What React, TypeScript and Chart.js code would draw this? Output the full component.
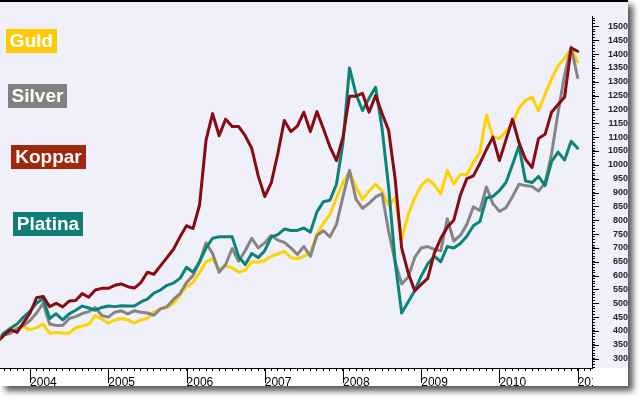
import React, { useEffect, useRef } from 'react';
import { Chart, registerables } from 'chart.js';

Chart.register(...registerables);

// Monthly observations, Aug 2003 .. Jan 2011
const START_YEAR = 2003;
const START_MONTH = 8;
const months: string[] = Array.from({ length: 90 }, (_, i) => {
  const t = START_MONTH - 1 + i;
  return `${START_YEAR + Math.floor(t / 12)}-${String((t % 12) + 1).padStart(2, '0')}`;
});

const yearLabels = ['2004', '2005', '2006', '2007', '2008', '2009', '2010', '2011'];
const yTickLabels = [300, 350, 400, 450, 500, 550, 600, 650, 700, 750, 800, 850, 900, 950, 1000, 1050, 1100, 1150, 1200, 1250, 1300, 1350, 1400, 1450, 1500];

const guld = [
  365, 385, 395, 410, 415, 405, 412, 425, 392, 395, 393, 392, 412, 418, 425, 455, 443,
  428, 440, 445, 440, 428, 440, 445, 468, 480, 484, 500, 530,
  560, 575, 610, 650, 660, 622, 635, 628, 612, 620, 650, 648,
  655, 670, 678, 688, 665, 660, 670, 682, 750, 790, 820, 880,
  935, 975, 920, 875, 905, 930, 905, 855, 880, 730, 820, 880,
  925, 948, 928, 895, 980, 930, 965, 965, 1010, 1045, 1180, 1100,
  1095, 1120, 1150, 1205, 1232, 1245, 1195, 1255, 1310, 1358, 1385, 1420,
  1372,
];

const silver = [
  362, 385, 392, 408, 420, 438, 465, 500, 425, 420, 420, 445, 452, 463, 470, 485, 456,
  450, 468, 473, 462, 473, 468, 465, 457, 480, 488, 514, 535,
  575, 600, 650, 718, 680, 612, 640, 698, 652, 690, 735, 700,
  718, 745, 728, 720, 700, 676, 705, 670, 745, 762, 740, 785,
  885, 980, 875, 843, 861, 884, 895, 760, 650, 570, 595, 665,
  700, 705, 695, 690, 805, 725, 745, 785, 848, 835, 920, 860,
  832, 845, 885, 930, 925, 922, 905, 935, 1040, 1190, 1325, 1425,
  1315,
];

const koppar = [
  360, 385, 405, 395, 430, 465, 520, 525, 488, 500, 487, 508, 510, 535, 522, 548, 554,
  554, 565, 570, 560, 555, 575, 612, 605, 635, 665, 695, 740,
  780, 770, 855, 1090, 1185, 1105, 1165, 1138, 1138, 1105, 1060, 960,
  885, 935, 1040, 1160, 1120, 1140, 1190, 1120, 1192, 1130, 1065, 1015,
  1100, 1248, 1248, 1258, 1190, 1250, 1185, 1125, 950, 700, 610, 545,
  568, 590, 680, 735, 775, 800, 890, 950, 960, 1005, 1055, 1100,
  1015, 1090, 1165, 1080, 1020, 990, 1095, 1110, 1190, 1218, 1245, 1422,
  1410,
];

const platina = [
  365, 393, 410, 425, 450, 472, 500, 518, 445, 462, 440, 462, 475, 490, 483, 475, 485,
  490, 488, 491, 490, 490, 505, 515, 537, 548, 565, 573, 590,
  630, 612, 650, 700, 735, 740, 740, 740, 668, 640, 680, 665,
  690, 740, 748, 768, 763, 763, 772, 757, 830, 867, 872, 930,
  1080, 1350, 1255, 1196, 1240, 1280, 1130, 920, 650, 465, 505, 545,
  598, 642, 670, 650, 705, 700, 716, 742, 780, 795, 880, 886,
  907, 936, 1000, 1068, 942, 936, 958, 925, 1012, 1046, 1017, 1085,
  1060,
];

const monthIndex = (s: string) => {
  const [y, m] = s.split('-').map(Number);
  return (y - 2004) * 12 + (m - 1);
};

const series = [
  { label: 'Koppar', values: koppar, color: '#8A0A12' },
  { label: 'Platina', values: platina, color: '#0A8478' },
  { label: 'Silver', values: silver, color: '#858585' },
  { label: 'Guld', values: guld, color: '#FFD200' },
];

const legendBoxes = [
  { label: 'Guld', bg: '#FDCA05', left: 6, top: 29, width: 51, height: 24 },
  { label: 'Silver', bg: '#808080', left: 8, top: 84, width: 59, height: 24 },
  { label: 'Koppar', bg: '#A0280C', left: 11, top: 145, width: 75, height: 24 },
  { label: 'Platina', bg: '#0F7F76', left: 13, top: 212, width: 70, height: 24 },
];

const framePlugin = {
  id: 'frame',
  beforeDraw(chart: any) {
    const { ctx, chartArea, scales } = chart;
    const right = scales.y.right;
    const bottom = scales.x.bottom;
    ctx.save();
    ctx.fillStyle = '#ffffff';
    ctx.fillRect(0, 0, chart.width, chart.height);
    ctx.shadowColor = 'rgba(0,0,0,0.65)';
    ctx.shadowBlur = 6;
    ctx.shadowOffsetX = 5;
    ctx.shadowOffsetY = 5;
    ctx.fillRect(0, 0, right, bottom);
    ctx.shadowColor = 'transparent';
    ctx.shadowBlur = 0;
    ctx.shadowOffsetX = 0;
    ctx.shadowOffsetY = 0;
    ctx.fillStyle = '#F0F0FA';
    ctx.fillRect(0, 0, right, chartArea.bottom);
    ctx.restore();
  },
  afterDraw(chart: any) {
    const { ctx, chartArea, scales } = chart;
    const x = scales.x;
    const y = scales.y;
    ctx.save();
    ctx.strokeStyle = '#000';
    ctx.lineWidth = 1;
    ctx.beginPath();
    for (const t of x.ticks) {
      if (t.value % 12 === 0) {
        const px = Math.round(x.getPixelForValue(t.value)) + 0.5;
        ctx.moveTo(px, chartArea.bottom);
        ctx.lineTo(px, chartArea.bottom + 15);
      }
    }
    for (const t of y.ticks) {
      if (t.value % 50 === 0) {
        const py = Math.round(y.getPixelForValue(t.value)) + 0.5;
        ctx.moveTo(chartArea.right, py);
        ctx.lineTo(chartArea.right + 7, py);
      }
    }
    ctx.stroke();
    // labels are cut at the plot's right edge
    ctx.fillStyle = '#ffffff';
    ctx.fillRect(chartArea.right + 1, chartArea.bottom + 1, y.right - chartArea.right - 1, x.bottom - chartArea.bottom - 1);
    // top frame line
    ctx.fillStyle = '#000';
    ctx.fillRect(0, 0, y.right, 2);
    ctx.restore();
  },
};

export default function App() {
  const canvasRef = useRef<HTMLCanvasElement | null>(null);

  useEffect(() => {
    document.body.style.margin = '0';
    const canvas = canvasRef.current;
    if (!canvas) return;
    const xs = months.map(monthIndex);
    const chart = new Chart(canvas, {
      type: 'line',
      data: {
        datasets: series.map((s) => ({
          label: s.label,
          data: s.values.map((v, i) => ({ x: xs[i], y: v })),
          borderColor: s.color,
          backgroundColor: s.color,
          borderWidth: 3,
          pointRadius: 0,
          tension: 0,
          borderJoinStyle: 'round' as const,
          borderCapStyle: 'round' as const,
        })),
      },
      options: {
        responsive: false,
        animation: false,
        devicePixelRatio: 1,
        layout: { padding: { top: 2, right: 15, bottom: 15, left: 0 } },
        plugins: { legend: { display: false }, tooltip: { enabled: false } },
        scales: {
          x: {
            type: 'linear',
            position: 'bottom',
            min: -4.55,
            max: 86.2,
            afterBuildTicks: (scale: any) => {
              const ticks = [];
              for (let m = -4; m <= 86; m++) ticks.push({ value: m });
              scale.ticks = ticks;
            },
            afterFit: (scale: any) => {
              scale.height = 18;
            },
            grid: { drawOnChartArea: false, drawTicks: true, tickLength: 3, tickColor: '#000' },
            border: { display: true, color: '#000', width: 1 },
            ticks: {
              autoSkip: false,
              maxRotation: 0,
              minRotation: 0,
              align: 'start',
              padding: 4,
              color: '#000',
              font: { family: 'Liberation Sans, Arial, sans-serif', size: 12 },
              callback: (v: any) => {
                const n = Number(v);
                if (n % 12 !== 0) return '';
                return yearLabels[n / 12] ?? '';
              },
            },
          },
          y: {
            type: 'linear',
            position: 'right',
            min: 266.4,
            max: 1535.9,
            afterBuildTicks: (scale: any) => {
              const ticks = [];
              for (let v = 270; v <= 1530; v += 10) ticks.push({ value: v });
              scale.ticks = ticks;
            },
            afterFit: (scale: any) => {
              scale.width = 36;
            },
            grid: { drawOnChartArea: false, drawTicks: true, tickLength: 3, tickColor: '#000' },
            border: { display: true, color: '#000', width: 1 },
            ticks: {
              autoSkip: false,
              crossAlign: 'far',
              padding: 11,
              color: '#22223A',
              font: { family: 'Liberation Sans, Arial, sans-serif', size: 9, weight: 'bold' },
              callback: (v: any) => {
                const n = Number(v);
                return yTickLabels.includes(n) ? String(n) : '';
              },
            },
          },
        },
      },
      plugins: [framePlugin],
    });
    return () => chart.destroy();
  }, []);

  return (
    <div style={{ position: 'relative', width: 643, height: 401 }}>
      <canvas ref={canvasRef} width={643} height={401} style={{ display: 'block' }} />
      {legendBoxes.map((b) => (
        <div
          key={b.label}
          style={{
            position: 'absolute',
            left: b.left,
            top: b.top,
            width: b.width,
            height: b.height,
            background: b.bg,
            color: '#fff',
            fontFamily: 'Liberation Sans, Arial, sans-serif',
            fontWeight: 'bold',
            fontSize: 19,
            lineHeight: `${b.height}px`,
            textAlign: 'center',
            whiteSpace: 'nowrap',
          }}
        >
          {b.label}
        </div>
      ))}
    </div>
  );
}
